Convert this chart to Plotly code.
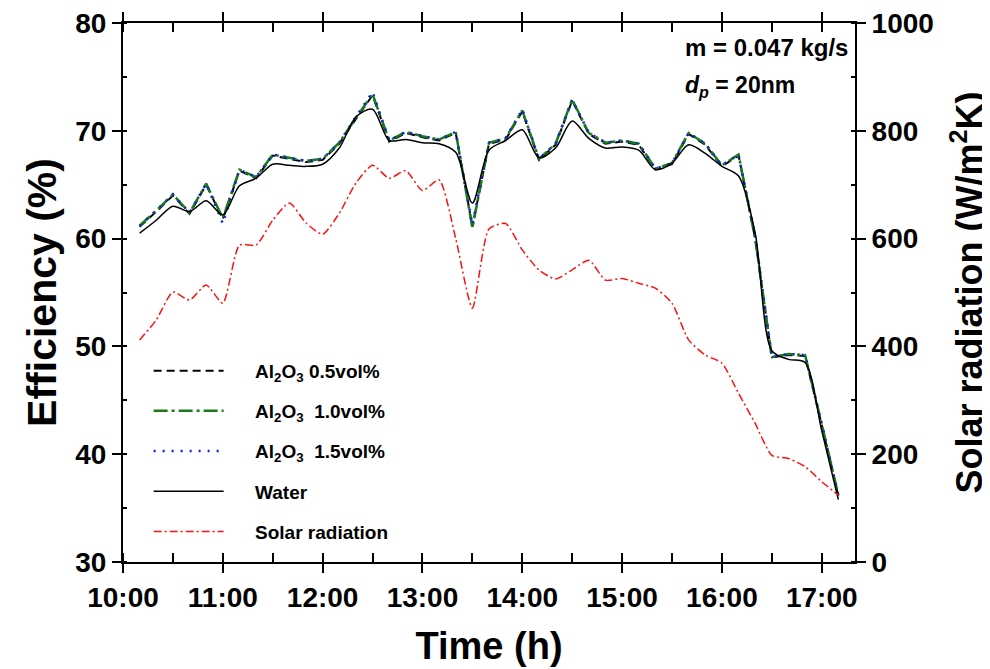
import plotly.graph_objects as go

times = ["10:10","10:20","10:30","10:40","10:50","11:00","11:10","11:20","11:30","11:40","11:50",
         "12:00","12:10","12:20","12:30","12:40","12:50","13:00","13:10","13:20","13:30","13:40",
         "13:50","14:00","14:10","14:20","14:30","14:40","14:50","15:00","15:10","15:20","15:30",
         "15:40","15:50","16:00","16:10","16:20","16:30","16:40","16:50","17:00","17:10"]

al2o3_05 = [61.1,62.5,64.0,62.3,65.0,61.8,66.3,65.6,67.7,67.4,67.1,67.3,68.8,71.1,73.3,69.0,69.8,
            69.4,69.1,69.8,61.1,68.8,69.2,71.8,67.3,68.7,72.8,69.7,68.8,69.0,68.7,66.4,66.9,69.7,
            68.7,66.7,67.7,60.0,49.0,49.2,49.1,42.7,36.1]
al2o3_10 = [61.2,62.6,64.1,62.4,65.1,61.9,66.4,65.7,67.8,67.5,67.2,67.4,68.9,71.2,73.4,69.1,69.9,
            69.5,69.2,69.9,61.0,68.9,69.3,71.9,67.4,68.8,72.9,69.8,68.9,69.1,68.8,66.5,67.0,69.8,
            68.8,66.8,67.8,60.0,49.0,49.3,49.2,42.8,36.2]
al2o3_15 = [61.2,62.6,64.1,62.4,65.1,61.4,66.4,65.7,67.8,67.5,67.2,67.4,68.9,71.3,73.6,69.1,69.9,
            69.5,69.2,69.9,61.3,68.9,69.3,72.0,67.4,68.8,72.9,69.8,68.9,69.1,68.8,66.5,67.0,69.8,
            68.8,66.8,67.8,60.2,49.0,49.3,49.2,42.8,36.2]
water = [60.5,61.7,63.0,62.5,63.5,62.2,64.9,65.6,66.9,66.8,66.7,66.9,68.4,71.3,72.0,69.1,69.2,
         68.9,68.8,68.0,63.3,68.2,69.1,70.1,67.5,68.4,70.9,69.3,68.4,68.5,68.2,66.4,67.0,68.7,
         67.9,66.7,65.8,60.5,49.6,48.8,48.5,42.2,35.8]
solar = [412,449,501,486,514,480,588,588,634,666,629,608,647,703,736,712,726,689,709,600,471,618,
         628,579,542,525,542,560,523,526,517,508,480,412,384,369,313,257,198,192,177,149,124]

tick_labels = ["10:00","11:00","12:00","13:00","14:00","15:00","16:00","17:00"]

def to_hours(s):
    h, m = s.split(":")
    return int(h) + int(m) / 60.0

x = [to_hours(t) for t in times]
tickvals = [to_hours(t) for t in tick_labels]

FONT = "Liberation Sans, Arial, sans-serif"
PAD = "\u00a0" * 5

fig = go.Figure()
fig.add_trace(go.Scatter(x=x, y=al2o3_05, mode="lines", name=PAD + "Al<sub>2</sub>O<sub>3</sub> 0.5vol%",
                         line=dict(color="black", width=2, dash="8px,5px"), legendgroup="a"))
fig.add_trace(go.Scatter(x=x, y=al2o3_10, mode="lines", name=PAD + "Al<sub>2</sub>O<sub>3</sub>  1.0vol%",
                         line=dict(color="#1a7a1a", width=2.5, dash="14px,4px,3px,4px"), legendgroup="b"))
fig.add_trace(go.Scatter(x=x, y=al2o3_15, mode="lines", name=PAD + "Al<sub>2</sub>O<sub>3</sub>  1.5vol%",
                         line=dict(color="#1020e0", width=2.5, dash="2px,7px"), legendgroup="c"))
fig.add_trace(go.Scatter(x=x, y=water, mode="lines", name=PAD + "Water",
                         line=dict(color="black", width=1.5, shape="spline", smoothing=0.8), legendgroup="d"))
fig.add_trace(go.Scatter(x=x, y=solar, mode="lines", name=PAD + "Solar radiation", yaxis="y2",
                         line=dict(color="#ff1010", width=1.5, dash="8px,3px,2px,3px", shape="spline", smoothing=0.6),
                         legendgroup="e"))

tickfont = dict(family=FONT, size=28, color="black", weight="bold")

fig.update_layout(
    width=982, height=661,
    margin=dict(l=115, r=135, t=15, b=107, autoexpand=False),
    paper_bgcolor="white", plot_bgcolor="white",
    font=dict(family=FONT, color="black"),
    xaxis=dict(range=[10, 17 + 20/60], tickvals=tickvals, ticktext=tick_labels,
               showline=True, linecolor="black", linewidth=2, mirror="allticks",
               ticks="outside", ticklen=9, tickwidth=2, tickcolor="black",
               minor=dict(dtick=0.5, tick0=10, ticks="inside", ticklen=4, tickwidth=1.5, tickcolor="black"),
               showgrid=False, zeroline=False, tickfont=tickfont, automargin=False,
               ticklabeloverflow="allow",
               title=dict(text="Time (h)", font=dict(family=FONT, size=38, color="black", weight="bold"),
                          standoff=21)),
    yaxis=dict(range=[30, 80], dtick=10, showline=True, linecolor="black", linewidth=2,
               ticks="outside", ticklen=9, tickwidth=2, tickcolor="black",
               minor=dict(dtick=5, ticks="inside", ticklen=4, tickwidth=1.5, tickcolor="black"),
               showgrid=False, zeroline=False, tickfont=tickfont, automargin=False,
               ticklabeloverflow="allow",
               title=dict(text="Efficiency (%)", font=dict(family=FONT, size=41, color="black", weight="bold"),
                          standoff=6)),
    yaxis2=dict(range=[0, 1000], dtick=200, overlaying="y", side="right", showline=True,
                linecolor="black", linewidth=2, ticks="outside", ticklen=9, tickwidth=2, tickcolor="black",
                minor=dict(dtick=100, ticks="inside", ticklen=4, tickwidth=1.5, tickcolor="black"),
                showgrid=False, zeroline=False, tickfont=tickfont, automargin=False,
                ticklabeloverflow="allow",
                title=dict(text="Solar radiation (W/m<sup>2</sup>K)",
                           font=dict(family=FONT, size=36, color="black", weight="bold"), standoff=30)),
    legend=dict(x=0.035, y=0.390, xanchor="left", yanchor="top", bgcolor="rgba(0,0,0,0)",
                font=dict(family=FONT, size=19, color="black", weight="bold"),
                tracegroupgap=12.5, itemwidth=70),
    annotations=[
        dict(text="m = 0.047 kg/s", xref="paper", yref="paper", x=0.765, y=0.955,
             xanchor="left", yanchor="middle", showarrow=False,
             font=dict(family=FONT, size=24, color="black", weight="bold")),
        dict(text="<i>d<sub>p</sub></i> = 20nm", xref="paper", yref="paper", x=0.765, y=0.882,
             xanchor="left", yanchor="middle", showarrow=False,
             font=dict(family=FONT, size=23, color="black", weight="bold")),
    ],
)

fig.write_html("out.html")
